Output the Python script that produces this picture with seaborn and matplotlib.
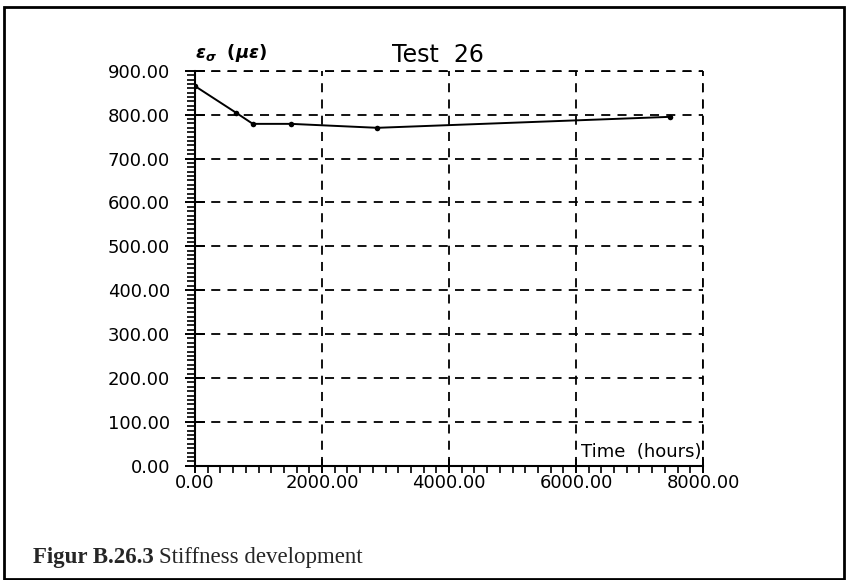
import matplotlib
matplotlib.use("Agg")
import matplotlib.pyplot as plt
import matplotlib.patches as mpatches
from matplotlib.ticker import MultipleLocator, FormatStrFormatter
import seaborn as sns
import pandas as pd

# Stiffness measurements for test 26
time_hours = [0, 650, 910, 1510, 2870, 7480]
strain_ue = [865, 804, 779, 779, 770, 795]

x_ticks = [0, 2000, 4000, 6000, 8000]
y_ticks = [0, 100, 200, 300, 400, 500, 600, 700, 800, 900]

df = pd.DataFrame({"Time (hours)": time_hours, "strain": strain_ue})

sns.set_theme(style="white")
plt.rcParams["font.family"] = ["DejaVu Sans"]
plt.rcParams["mathtext.fontset"] = "custom"
plt.rcParams["mathtext.it"] = "DejaVu Sans:italic:bold"
plt.rcParams["mathtext.rm"] = "DejaVu Sans:bold"

fig = plt.figure(figsize=(8.48, 5.80), dpi=100)
ax = fig.add_axes([0.230, 0.197, 0.599, 0.681])

sns.lineplot(data=df, x="Time (hours)", y="strain", ax=ax, color="black",
             linewidth=1.4, marker="o", markersize=4, markeredgewidth=0)

ax.set_xlim(0, 8000)
ax.set_ylim(0, 900)
ax.set_xticks(x_ticks)
ax.set_yticks(y_ticks)
ax.xaxis.set_major_formatter(FormatStrFormatter("%.2f"))
ax.yaxis.set_major_formatter(FormatStrFormatter("%.2f"))
ax.xaxis.set_minor_locator(MultipleLocator(200))
ax.yaxis.set_minor_locator(MultipleLocator(10))

ax.tick_params(axis="both", which="both", colors="black", labelsize=13)
ax.tick_params(axis="x", which="major", direction="inout", length=10, width=1.4, pad=1)
ax.tick_params(axis="x", which="minor", direction="out", length=5, width=1.2)
ax.tick_params(axis="y", which="major", direction="inout", length=14, width=1.4, pad=11)
ax.tick_params(axis="y", which="minor", direction="out", length=6, width=1.2)
ax.xaxis.set_ticks_position("bottom")
ax.yaxis.set_ticks_position("left")

dash = (0, (5, 4))
ax.grid(True, which="major", color="black", linestyle=dash, linewidth=1.3)
ax.spines["top"].set_visible(False)
ax.spines["right"].set_visible(False)
for side in ("left", "bottom"):
    ax.spines[side].set_color("black")
    ax.spines[side].set_linewidth(1.5)
    ax.spines[side].set_zorder(5)
ax.axhline(900, color="black", linestyle=dash, linewidth=1.3, clip_on=False)
ax.axvline(8000, color="black", linestyle=dash, linewidth=1.3, clip_on=False)

ax.set_xlabel("")
ax.set_ylabel("")
ax.text(0.998, 0.022, "Time  (hours)", transform=ax.transAxes, ha="right",
        va="baseline", fontsize=13, color="black")
ax.text(0.0, 1.033, r"$\varepsilon_{\sigma}$  $(\mu\varepsilon)$", transform=ax.transAxes,
        ha="left", va="baseline", fontsize=13, color="black")
ax.text(0.478, 1.023, "Test  26", transform=ax.transAxes, ha="center", va="baseline",
        fontsize=17, color="black")

# Caption: bold figure number followed by the regular description
cap_y = 1 - 563 / 580
num = fig.text(33 / 848, cap_y, "Figur B.26.3", fontsize=16.5, fontweight="bold",
               family="Liberation Serif", ha="left", va="baseline")
fig.canvas.draw()
bb = num.get_window_extent()
fig.text((bb.x1 + 5) / 848, cap_y, "Stiffness development", fontsize=16.5,
         family="Liberation Serif", ha="left", va="baseline")

fig.patches.append(mpatches.Rectangle((4 / 848, 1 / 580), 840 / 848, 572 / 580,
                                      transform=fig.transFigure, fill=False,
                                      edgecolor="black", linewidth=2))

fig.savefig("out.png", dpi=100)
